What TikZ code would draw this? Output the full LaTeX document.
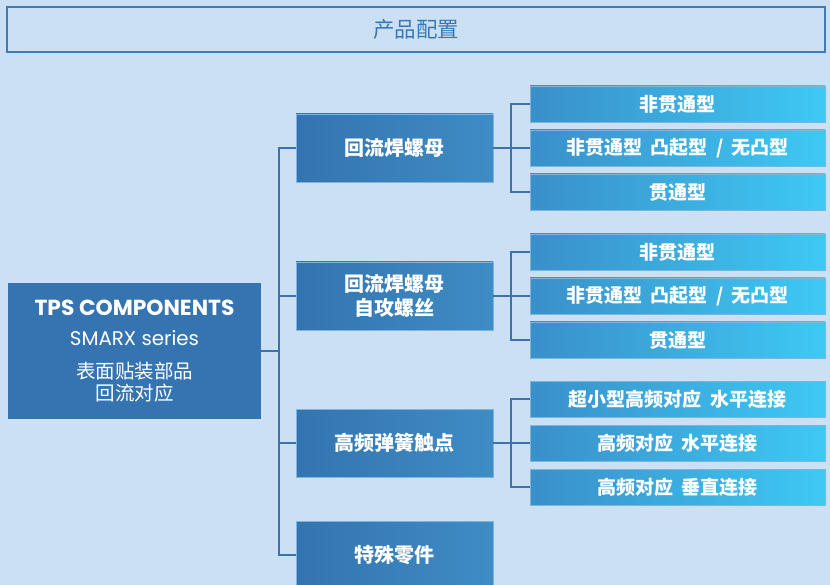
\documentclass[tikz,border=0pt]{standalone}
\usepackage{fontspec}
\setmainfont{Poppins}
\newfontfamily\cjk{Noto Sans CJK SC}
\newfontfamily\lat{Poppins}
\definecolor{bg}{HTML}{CBE0F3}
\definecolor{hdr}{HTML}{3F7DBA}
\definecolor{hdrtext}{HTML}{3A78B5}
\definecolor{dark}{HTML}{3574B0}
\definecolor{midL}{HTML}{3474AF}
\definecolor{midR}{HTML}{3F8CC5}
\definecolor{rL}{HTML}{3A8FC9}
\definecolor{rR}{HTML}{3EC9F4}
\definecolor{conn}{HTML}{3A73AE}
\definecolor{rim}{HTML}{7DB5E0}
\begin{document}
\begin{tikzpicture}[x=1pt,y=-1pt,
  conn/.style={draw=conn,line width=2.4pt},
  midbox/.style={left color=midL,right color=midR,draw=rim,line width=0.5pt,minimum width=197pt,minimum height=68pt,inner sep=0pt,text=white,font=\cjk\bfseries\fontsize{20}{23}\selectfont},
  rbox/.style={left color=rL,right color=rR,draw=rim,line width=0.5pt,minimum width=295pt,minimum height=36pt,inner sep=0pt,text=white,font=\cjk\bfseries\fontsize{19}{22}\selectfont},
  wtext/.style={text=white,inner sep=0pt}]
\useasboundingbox (0,0) rectangle (830,585);
\clip (0,0) rectangle (830,585);
\fill[bg] (0,0) rectangle (830,585);
% header
\node[draw=hdr,line width=1.5pt,minimum width=818pt,minimum height=45pt,inner sep=0pt,text=hdrtext,font=\cjk\fontsize{21.5}{24}\selectfont] (H) at (416,29.5) {产品配置};
% left box
\node[fill=dark,minimum width=253pt,minimum height=136pt,inner sep=0pt] (L) at (134.5,351) {};
\node[wtext,anchor=base,font=\lat\bfseries\fontsize{21.8}{26}\selectfont] (L1) at (134.5,316) {TPS COMPONENTS};
\node[wtext,anchor=base,font=\lat\fontsize{19.8}{23}\selectfont] (L2) at (134.5,345) {SMARX series};
\node[wtext,anchor=base,font=\cjk\fontsize{19.5}{22}\selectfont] (L3) at (134.5,378) {表面贴装部品};
\node[wtext,anchor=base,font=\cjk\fontsize{19.5}{22}\selectfont] (L4) at (134.5,400) {回流对应};
% middle boxes
\node[midbox] (M1) at (394.5,148) {回流焊螺母};
\node[midbox,align=center,font=\cjk\bfseries\fontsize{20}{23.5}\selectfont] (M2) at (394.5,296) {回流焊螺母\\自攻螺丝};
\node[midbox] (M3) at (394.5,443) {高频弹簧触点};
\node[midbox] (M4) at (394.5,555) {特殊零件};
% right boxes
\node[rbox] (R11) at (677.5,104) {非贯通型};
\node[rbox] (R12) at (677.5,148) {非贯通型\hspace{0.45em}凸起型\hspace{0.45em}/\hspace{0.45em}无凸型};
\node[rbox] (R13) at (677.5,192) {贯通型};
\node[rbox] (R21) at (677.5,252) {非贯通型};
\node[rbox] (R22) at (677.5,296) {非贯通型\hspace{0.45em}凸起型\hspace{0.45em}/\hspace{0.45em}无凸型};
\node[rbox] (R23) at (677.5,340) {贯通型};
\node[rbox] (R31) at (677.5,399) {超小型高频对应\hspace{0.45em}水平连接};
\node[rbox] (R32) at (677.5,443) {高频对应\hspace{0.45em}水平连接};
\node[rbox] (R33) at (677.5,487) {高频对应\hspace{0.45em}垂直连接};
% connectors
\coordinate (tA) at (279,0);
\coordinate (tB) at (511,0);
\foreach \m in {M1,M2,M3,M4}
  \draw[conn] (L.east) -- (L.east -| tA) |- (\m.west);
\foreach \r in {R11,R12,R13}
  \draw[conn] (M1.east) -- (M1.east -| tB) |- (\r.west);
\foreach \r in {R21,R22,R23}
  \draw[conn] (M2.east) -- (M2.east -| tB) |- (\r.west);
\foreach \r in {R31,R32,R33}
  \draw[conn] (M3.east) -- (M3.east -| tB) |- (\r.west);
\end{tikzpicture}
\end{document}
